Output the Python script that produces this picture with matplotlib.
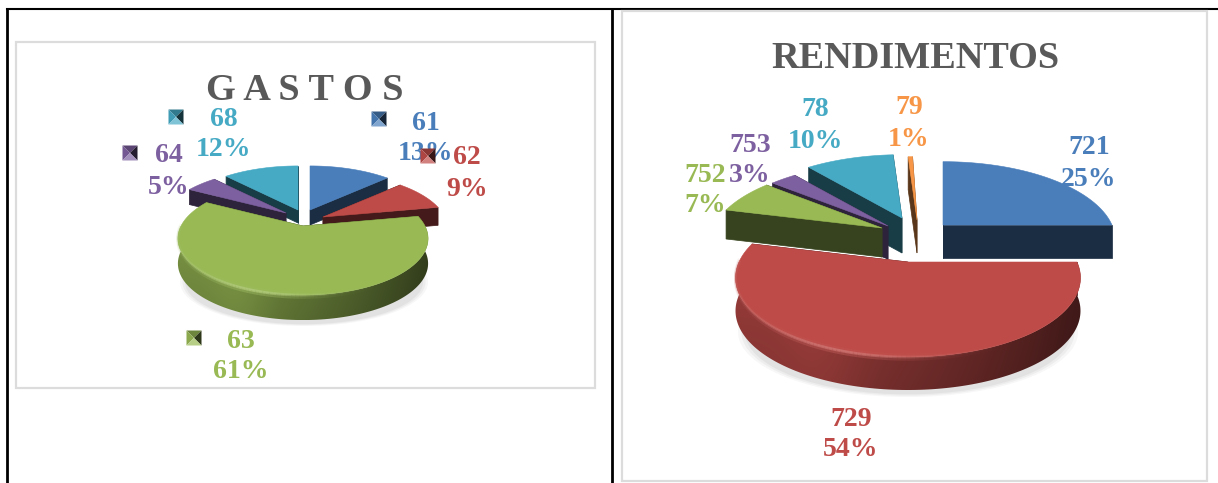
import numpy as np
import matplotlib
matplotlib.use("Agg")
import matplotlib.pyplot as plt
from matplotlib.collections import LineCollection
from matplotlib.colors import to_rgb
from matplotlib.patches import Polygon, Ellipse

# data
gastos_names = ['61', '62', '63', '64', '68']
gastos_pct = [13, 9, 61, 5, 12]
gastos_labels = ['13%', '9%', '61%', '5%', '12%']

rend_names = ['721', '729', '752', '753', '78', '79']
rend_pct = [25, 54, 7, 3, 10, 0.5]
rend_labels = ['25%', '54%', '7%', '3%', '10%', '1%']

BLUE = '#4a7ebb'
RED = '#be4b48'
GREEN = '#98b954'
PURPLE = '#7d60a0'
CYAN = '#46aac5'
ORANGE = '#f79646'
GREY = '#595959'

plt.rcParams['font.family'] = ['Liberation Serif', 'DejaVu Serif']

fig = plt.figure(figsize=(12.18, 4.83), dpi=100)
ax = fig.add_axes([0, 0, 1, 1])
ax.set_xlim(0, 1218)
ax.set_ylim(483, 0)
ax.axis('off')


def shade(col, f):
    c = np.array(to_rgb(col))
    return tuple(np.clip(c * f, 0, 1)) if f <= 1 else tuple(c + (1 - c) * (f - 1))


def project(ang, cx, ay, R, Q, k):
    x = np.cos(np.radians(ang))
    y = np.sin(np.radians(ang))
    s = 1 / (1 + k * y)
    return cx + R * x * s, ay - Q * y * s


def draw_slice(a0, a1, col, off, depth, cx, ay, R, Q, k, z):
    # a0 > a1, degrees counter clockwise, slice runs clockwise
    ang = np.linspace(a0, a1, 160)
    px, py = project(ang, cx, ay, R, Q, k)
    px = px + off[0]
    py = py + off[1]
    ax0, ay0 = cx + off[0], ay + off[1]

    dark = shade(col, 0.36)
    # cut faces
    for i in (0, -1):
        face = [(ax0, ay0), (px[i], py[i]), (px[i], py[i] + depth), (ax0, ay0 + depth)]
        ax.add_patch(Polygon(face, closed=True, fc=dark, ec=dark, lw=0.5, zorder=z))

    # only the front part of the rim can be seen
    front = np.sin(np.radians(ang)) <= 0.02
    left = cx - R * 1.05
    right = cx + R * 1.05
    if front.sum() > 2:
        fx, fy = px[front], py[front]
        rim = np.vstack([np.column_stack([fx, fy]),
                         np.column_stack([fx[::-1], fy[::-1] + depth])])
        clip = Polygon(rim, closed=True, fc='none', ec='none', zorder=z + 0.1)
        ax.add_patch(clip)
        t = np.linspace(0, 1, 200)
        f = 0.80 - 0.46 * t ** 1.8 + 0.08 * np.exp(-((t - 0.25) / 0.12) ** 2)
        # darker towards the lower edge of the rim
        v = np.linspace(1.0, 0.86, 40)
        grad = np.array([[shade(col, a * b) for a in f] for b in v])
        im = ax.imshow(grad, extent=[left, right, fy.max() + depth, fy.min()],
                       aspect='auto', zorder=z + 0.2, interpolation='bilinear')
        im.set_clip_path(clip)

    # top of the slice
    top = np.vstack([[ax0, ay0], np.column_stack([px, py])])
    ax.add_patch(Polygon(top, closed=True, fc=col, ec=col, lw=0.4, zorder=z + 0.3))

    # bevel along the front edge, brightest on the lower left, fading to the right
    if front.sum() > 2:
        fx, fy = px[front], py[front]
        tt = (fx - left) / (right - left)
        glow = np.exp(-((tt - 0.3) / 0.25) ** 2)
        for dy, lw, al, lift in ((-2.0, 2.2, 0.25, 1.10), (0.0, 2.0, 0.85, 1.22), (2.2, 2.2, 0.4, 1.12)):
            pts = np.column_stack([fx, fy + dy])
            segs = np.stack([pts[:-1], pts[1:]], axis=1)
            base = shade(col, lift)
            colors = [(base[0], base[1], base[2], al * g) for g in glow[:-1]]
            ax.add_collection(LineCollection(segs, colors=colors, linewidths=lw, zorder=z + 0.4))
    ax.set_xlim(0, 1218)
    ax.set_ylim(483, 0)


def draw_pie(pct, cols, offs, depths, order, cx, ay, R, Q, k):
    cum = np.cumsum([0] + list(pct))
    for z, i in enumerate(order):
        a0 = 90 - 3.6 * cum[i]
        a1 = 90 - 3.6 * cum[i + 1]
        draw_slice(a0, a1, cols[i], offs[i], depths[i], cx, ay, R, Q, k, 3 + z)


def marker(x, y, col, size=15):
    h = size / 2
    c = (x, y)
    tl, tr, br, bl = (x - h, y - h), (x + h, y - h), (x + h, y + h), (x - h, y + h)
    ax.add_patch(Polygon([tl, tr, c], fc=shade(col, 0.72), ec='none', zorder=21))
    ax.add_patch(Polygon([tl, bl, c], fc=shade(col, 0.92), ec='none', zorder=21))
    ax.add_patch(Polygon([tr, br, c], fc=shade(col, 0.3), ec='none', zorder=21))
    ax.add_patch(Polygon([bl, br, c], fc=shade(col, 1.3), ec='none', zorder=21))


def label(x, y, name, pct_txt, col, dy=31):
    ax.text(x, y + 2, name, color=col, fontsize=20, fontweight='bold', ha='center', va='center', zorder=20)
    ax.text(x, y + dy + 2, pct_txt, color=col, fontsize=20, fontweight='bold', ha='center', va='center', zorder=20)


# frames
ax.plot([7, 7], [483, 9], color='k', lw=2, zorder=1)
ax.plot([7, 1218], [9, 9], color='k', lw=1.5, zorder=1)
ax.plot([612, 612], [9, 483], color='k', lw=2, zorder=1)
ax.add_patch(Polygon([(16, 42), (595, 42), (595, 388), (16, 388)], closed=True, fc='white', ec='#dcdcdc', lw=1.6, zorder=1))
ax.add_patch(Polygon([(622, 10.5), (1207, 10.5), (1207, 481), (622, 481)], closed=True, fc='white', ec='#dcdcdc', lw=1.6, zorder=1))

# soft shadows, only under the front of the pies
for w, a in ((1.0, 0.08), (0.98, 0.10), (0.96, 0.12)):
    ax.add_patch(Ellipse((304, 282), 248 * w, 88 * w, fc='#999999', ec='none', alpha=a, zorder=2))
    ax.add_patch(Ellipse((908, 332), 340 * w, 130 * w, fc='#999999', ec='none', alpha=a, zorder=2))

# GASTOS
gastos_cols = [BLUE, RED, GREEN, PURPLE, CYAN]
gastos_offs = [(7, -16), (20, -9), (0, 0), (-17, -13), (-5, -16)]
gastos_depths = [15, 18, 25, 15, 13]
draw_pie(gastos_pct, gastos_cols, gastos_offs, gastos_depths, [4, 0, 3, 1, 2],
         303, 226, 122, 53.8, 0.221)
ax.text(305, 90, 'G A S T O S', color=GREY, fontsize=27.5, fontweight='bold', ha='center', va='center')

g_xy = [(426, 121), (467, 156), (241, 339), (169, 154), (224, 117)]
g_mark = [(379, 119), (428, 156), (194, 338), (130, 153), (176, 117)]
for i in range(5):
    label(g_xy[i][0], g_xy[i][1], gastos_names[i], gastos_labels[i], gastos_cols[i])
    marker(g_mark[i][0], g_mark[i][1], gastos_cols[i])

# RENDIMENTOS
rend_cols = [BLUE, RED, GREEN, PURPLE, CYAN, ORANGE]
rend_offs = [(35, -37), (0, 0), (-26, -34), (-20, -36), (-6, -44), (9, -42)]
rend_depths = [33, 33, 29, 33, 35, 33]
draw_pie(rend_pct, rend_cols, rend_offs, rend_depths, [5, 4, 3, 2, 0, 1],
         908, 262, 169, 76, 0.2)
ax.text(915, 58, 'RENDIMENTOS', color=GREY, fontsize=27.5, fontweight='bold', ha='center', va='center')

r_xy = [(1089, 146), (851, 417), (705, 173), (750, 143), (815, 108), (909, 106)]
for i in range(6):
    label(r_xy[i][0], r_xy[i][1], rend_names[i], rend_labels[i], rend_cols[i])

fig.savefig('out.png', dpi=100)
